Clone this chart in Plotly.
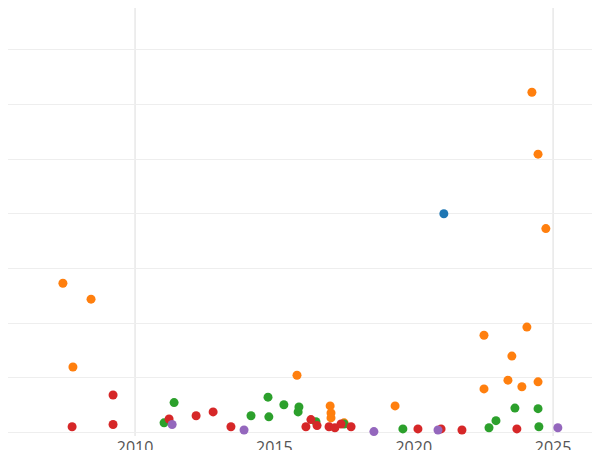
import plotly.graph_objects as go

blue_x = [2021.08]; blue_y = [40]
orange_x = [2007.41,2008.42,2007.77,2015.81,2017.0,2017.03,2017.03,2017.5,2019.33,2022.52,2022.52,2023.52,2023.38,2023.88,2024.06,2024.24,2024.46,2024.46,2024.74]
orange_y = [27.3,24.4,12,10.5,4.9,3.6,2.7,1.8,4.9,17.8,8,14,9.6,8.4,19.3,62.2,50.9,9.3,37.3]
green_x = [2011.04,2011.4,2014.16,2014.77,2014.8,2015.34,2015.85,2015.88,2016.49,2017.5,2019.61,2022.7,2022.95,2023.63,2024.46,2024.49]
green_y = [1.8,5.5,3.1,6.5,2.9,5.1,3.8,4.7,2,1.6,0.7,0.9,2.2,4.5,4.4,1.1]
red_x = [2007.74,2009.21,2009.21,2011.22,2012.19,2012.8,2013.44,2016.13,2016.31,2016.53,2016.96,2017.17,2017.39,2017.75,2020.15,2020.98,2021.73,2023.7]
red_y = [1.1,6.9,1.5,2.5,3.1,3.8,1.1,1.1,2.4,1.3,1.1,0.9,1.6,1.1,0.7,0.7,0.5,0.7]
purple_x = [2011.33,2013.91,2018.57,2020.87,2025.17]
purple_y = [1.5,0.5,0.2,0.5,0.9]

fig = go.Figure()
for xs, ys, c in [(blue_x, blue_y, "#1f77b4"), (orange_x, orange_y, "#ff7f0e"),
                  (green_x, green_y, "#2ca02c"), (red_x, red_y, "#d62728"),
                  (purple_x, purple_y, "#9467bd")]:
    fig.add_trace(go.Scatter(x=xs, y=ys, mode="markers", cliponaxis=False,
                             marker=dict(color=c, size=9), showlegend=False))

for yr in [2010, 2025]:
    fig.add_shape(type="line", xref="x", yref="paper", x0=yr, x1=yr, y0=0, y1=1,
                  line=dict(color="#e8e8e8", width=1.5), layer="below")

fig.update_layout(
    width=600, height=450, margin=dict(l=0, r=0, t=0, b=22, pad=0, autoexpand=False),
    plot_bgcolor="white", paper_bgcolor="white",
    font=dict(family="Open Sans", size=16, color="#555"),
    xaxis=dict(range=[2005.44, 2026.97], tickvals=[2010, 2015, 2020, 2025],
               showgrid=False, zeroline=False, ticks="", ticklabelstandoff=0),
    yaxis=dict(range=[-0.6, 77.6], dtick=10, showticklabels=False,
               gridcolor="#eeeeee", zeroline=False),
)
fig.write_html("out.html")
